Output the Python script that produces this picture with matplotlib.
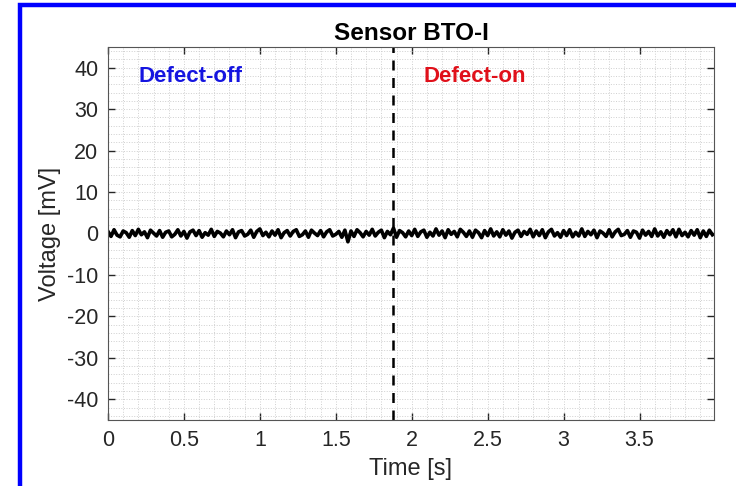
import numpy as np
import matplotlib
matplotlib.use("Agg")
import matplotlib.pyplot as plt
from matplotlib.patches import Rectangle
from matplotlib.ticker import MultipleLocator

plt.rcParams['font.family'] = ['Liberation Sans', 'DejaVu Sans']
plt.rcParams['axes.unicode_minus'] = False

# sensor output, one sample every 0.02 s
dt = 0.02
voltage = [
    0.5, -0.7, 0.9, -0.4, -0.8, 0.6, 0.2, -0.9, 0.7, -0.5,
    1.0, -0.3, 0.4, -1.0, 0.8, 0.1, -0.6, 0.7, -0.9, 0.3,
    0.6, -0.8, -0.2, 0.9, -0.6, 0.5, -1.1, 0.4, 0.8, -0.5,
    0.7, -0.9, 0.2, -0.4, 1.0, -0.7, 0.5, 0.1, -0.8, 0.6,
    -0.3, 0.9, -1.0, 0.4, 0.7, -0.6, -0.2, 0.8, -0.9, 0.5,
    1.1, -0.5, 0.3, -0.8, 0.6, -0.4, 0.9, -1.0, 0.2, 0.7,
    -0.6, 0.5, 0.9, -0.7, -0.3, 0.6, -0.9, 0.8, 0.1, -0.5,
    0.7, -0.8, 0.4, 0.9, -0.6, -0.2, 0.5, -0.9, 0.8, -2.0,
    0.6, -0.7, 0.9, 0.2, -0.8, 0.5, -0.4, 1.0, -0.6, 0.3,
    0.8, -1.0, 0.5, -0.3, 1.3, -0.9, 0.7, 0.2, -0.8, 0.6,
    -0.5, 1.0, -0.7, 0.4, 0.8, -0.9, 0.3, -0.6, 1.1, -0.4,
    0.6, -1.0, 0.9, -0.2, 0.5, -0.8, 1.0, 0.3, -0.7, 0.6,
    -0.9, 0.8, 0.2, -1.0, 0.7, -0.5, 1.1, -0.6, 0.4, -0.8,
    0.9, -0.4, 0.6, -1.1, 0.3, 0.8, -0.7, 0.5, -0.2, 1.0,
    -0.8, 0.6, -0.5, 0.9, -1.0, 0.4, 1.0, -0.6, 0.2, -0.9,
    0.7, -0.5, 0.9, -0.8, 0.3, -0.6, 1.1, -0.7, 0.5, -0.3,
    0.8, -1.0, 0.6, 0.1, -0.7, 0.9, -0.8, 0.4, 1.0, -0.5,
    -0.2, 0.7, -0.9, 0.6, 0.3, -1.1, 0.8, -0.4, 0.5, -0.7,
    1.1, -0.6, 0.4, -0.9, 0.7, -0.3, 0.9, -0.8, 1.0, -0.5,
    0.3, -0.8, 0.7, -0.4, 0.9, -1.0, 0.6, -0.7, 0.8, -0.3,
]
time = np.arange(len(voltage)) * dt

switch_time = 1.88
labels = ['Defect-off', 'Defect-on']
label_x = [0.2, 2.08]
label_y = 38
label_colors = ['#1515e0', '#e0101a']

fig = plt.figure(figsize=(7.36, 4.86), dpi=100)
ax = fig.add_axes([0.1467, 0.1358, 0.8233, 0.7675])

ax.plot(time, voltage, color='black', lw=2.6)
ax.axvline(switch_time, color='black', ls=(0, (4, 3)), lw=1.8)

for txt, xx, c in zip(labels, label_x, label_colors):
    ax.text(xx, label_y, txt, color=c, fontsize=16, fontweight='bold',
            ha='left', va='center')

ax.set_xlim(0, 3.99)
ax.set_ylim(-45, 45)
ax.xaxis.set_minor_locator(MultipleLocator(0.1))
ax.yaxis.set_major_locator(MultipleLocator(10))
ax.yaxis.set_minor_locator(MultipleLocator(2))
ax.set_xticks(np.arange(0, 4, 0.5))
ax.set_xticklabels(['0', '0.5', '1', '1.5', '2', '2.5', '3', '3.5'])

ax.grid(which='both', color='#cfcfcf', ls=':', lw=0.7)
ax.tick_params(which='major', direction='in', length=5, width=1,
               top=True, right=True, labelsize=15.5, colors='#262626',
               pad=7)
ax.tick_params(which='minor', length=0)
for sp in ax.spines.values():
    sp.set_color('#555555')

ax.set_title('Sensor BTO-I', fontsize=17.5, fontweight='bold', pad=5)
ax.set_xlabel('Time [s]', fontsize=17, color='#262626', labelpad=5)
ax.set_ylabel('Voltage [mV]', fontsize=17, color='#262626', labelpad=4)

# blue frame around the picture
fig.patches.append(Rectangle((20 / 736, -0.1), 1.2, 1.1 - 5 / 486,
                             transform=fig.transFigure, fill=False,
                             edgecolor='#0000ff', lw=3.2))

fig.savefig('out.png', dpi=100)
